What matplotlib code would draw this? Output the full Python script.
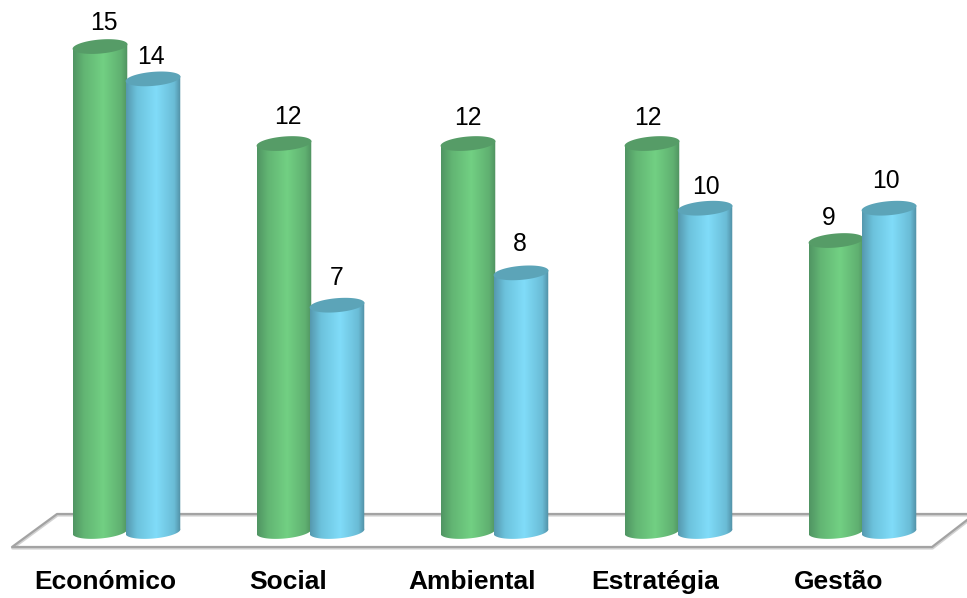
import numpy as np
import matplotlib
matplotlib.use('Agg')
import matplotlib.pyplot as plt
from matplotlib.colors import LinearSegmentedColormap
from matplotlib.patches import Polygon

plt.rcParams['font.family'] = ['Liberation Sans', 'DejaVu Sans']

categories = ['Económico', 'Social', 'Ambiental', 'Estratégia', 'Gestão']
green_values = [15, 12, 12, 12, 9]
blue_values = [14, 7, 8, 10, 10]

# label nudges in pixels (dx, dy above the top of the column)
green_nudge = [(4, 24), (4, 27), (0, 26), (-4, 26), (-7, 23)]
blue_nudge = [(-2, 22), (0, 27), (-1, 29), (1, 21), (-3, 27)]

W, H = 967, 598
PX_X = 184.0      # pixels per category
PX_Y = 32.33      # pixels per unit of value
BASE_X = 126.5    # pixel x of the first category
BASE_Y = 531.5    # pixel y of value zero
HALF_W = 27.5     # column half width
CAP_B = 7.0       # ellipse semi-minor axis
TILT = np.radians(5.0)

green_cmap = LinearSegmentedColormap.from_list(
    'green_cyl', [(0, '#509463'), (0.2, '#62b573'), (0.55, '#72d083'),
                  (0.88, '#60b071'), (1, '#4f9160')])
blue_cmap = LinearSegmentedColormap.from_list(
    'blue_cyl', [(0, '#5698ae'), (0.2, '#6cc2dc'), (0.55, '#80dcf9'),
                 (0.88, '#6abcd6'), (1, '#508ea3')])
GREEN_CAP = '#569c67'
BLUE_CAP = '#5ca4b8'


def ellipse_pts(t):
    # tilted ellipse offsets in data units, right side a little higher
    ex = HALF_W * np.cos(t)
    ey = CAP_B * np.sin(t)
    px = ex * np.cos(TILT) - ey * np.sin(TILT)
    py = ex * np.sin(TILT) + ey * np.cos(TILT)
    return px / PX_X, py / PX_Y


def draw_column(ax, x, value, cmap, cap_color, z):
    t = np.linspace(0, 2 * np.pi, 120)
    cap_x, cap_y = ellipse_pts(t)
    # lower arc of the base, from the left corner round to the right corner
    low = np.linspace(np.pi + TILT * 0.9, 2 * np.pi + TILT * 0.9, 60)
    low_x, low_y = ellipse_pts(low)
    body = np.column_stack([
        np.r_[x + low_x, x + low_x[-1], x + low_x[0]],
        np.r_[low_y, value + low_y[-1], value + low_y[0]],
    ])
    half = HALF_W / PX_X
    img = ax.imshow(np.linspace(0, 1, 256).reshape(1, -1), cmap=cmap,
                    extent=(x - half, x + half, -1, value + 1),
                    aspect='auto', zorder=z, interpolation='bilinear')
    clip = Polygon(body, closed=True, transform=ax.transData)
    img.set_clip_path(clip)
    ax.fill(x + cap_x, value + cap_y, color=cap_color, lw=0, zorder=z + 0.1)


fig = plt.figure(figsize=(W / 100, H / 100), dpi=100)
ax = fig.add_axes([0, 0, 1, 1])

# floor of the chart
floor_x = np.array([967, 57, 12, 932, 967])
floor_y = np.array([514, 514, 547, 547, 520])
ax.plot((floor_x + 0.5) / W, 1 - (floor_y + 1.2) / H, color='#d2d2d2', lw=2.0,
        transform=ax.transAxes, zorder=1)
ax.plot(floor_x / W, 1 - floor_y / H, color='#a3a3a3', lw=1.6,
        transform=ax.transAxes, zorder=1.1)

gap = 26.5 / PX_X
for i in range(len(categories)):
    draw_column(ax, i - gap, green_values[i], green_cmap, GREEN_CAP, 2 + i)
    draw_column(ax, i + gap, blue_values[i], blue_cmap, BLUE_CAP, 2.5 + i)

    ax.text(i - gap + green_nudge[i][0] / PX_X,
            green_values[i] + green_nudge[i][1] / PX_Y,
            str(green_values[i]), ha='center', va='center',
            fontsize=17.8, color='black', zorder=20)
    ax.text(i + gap + blue_nudge[i][0] / PX_X,
            blue_values[i] + blue_nudge[i][1] / PX_Y,
            str(blue_values[i]), ha='center', va='center',
            fontsize=17.8, color='black', zorder=20)

# category names below the floor
label_y = -(582 - BASE_Y) / PX_Y
label_shift = [-21, -22, -22, -23, -24]
for i, name in enumerate(categories):
    ax.text(i + label_shift[i] / PX_X, label_y, name, ha='center', va='center',
            fontsize=19, fontweight='bold', color='black', zorder=20)

ax.set_xlim(-BASE_X / PX_X, (W - BASE_X) / PX_X)
ax.set_ylim(-(H - BASE_Y) / PX_Y, BASE_Y / PX_Y)
ax.axis('off')

fig.savefig('out.png', dpi=100)
